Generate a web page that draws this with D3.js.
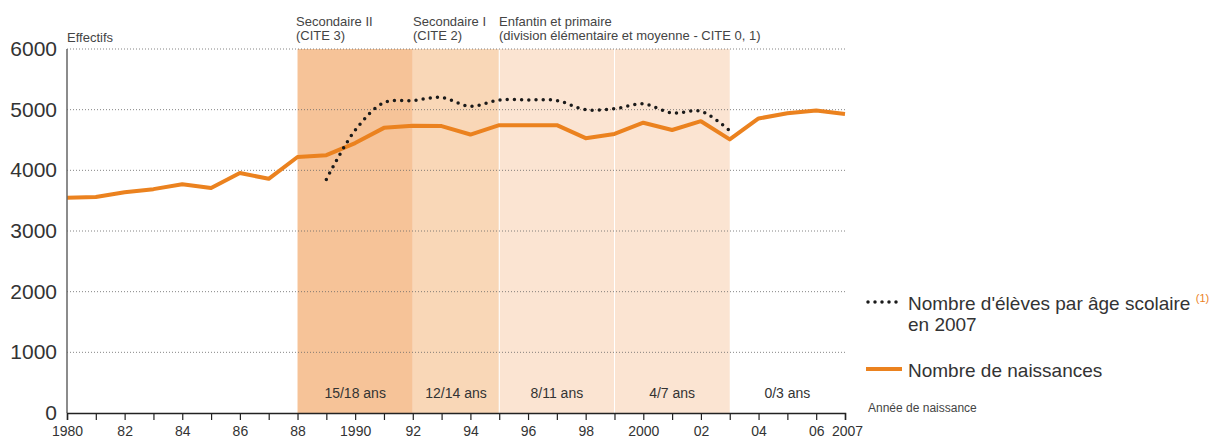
<!DOCTYPE html>
<html>
<head>
<meta charset="utf-8">
<script src="https://cdn.jsdelivr.net/npm/d3@7"></script>
<style>
  body { margin: 0; background: #fff; }
  svg, svg text { font-family: "Liberation Sans Narrow", "Liberation Sans", Arial, sans-serif; }
</style>
</head>
<body>
<svg id="chart" width="1211" height="441"></svg>
<script>
// births per year 1980-2007
var years = d3.range(1980, 2008);
var births = [3550, 3560, 3640, 3690, 3770, 3710, 3955, 3860, 4220, 4250,
              4450, 4700, 4735, 4730, 4590, 4745, 4745, 4745, 4530, 4600,
              4785, 4665, 4810, 4510, 4855, 4940, 4985, 4930];
// pupils by school age in 2007 (birth year 1989-2003)
var pupilYears = d3.range(1989, 2004);
var pupils = [3850, 4660, 5115, 5150, 5200, 5055, 5160, 5160, 5150, 5000,
              5015, 5095, 4945, 4975, 4650];
var yTicks = [0, 1000, 2000, 3000, 4000, 5000, 6000];
var xTickLabels = {1980: '1980', 1982: '82', 1984: '84', 1986: '86', 1988: '88', 1990: '1990',
    1992: '92', 1994: '94', 1996: '96', 1998: '98', 2000: '2000', 2002: '02', 2004: '04',
    2006: '06', 2007: '2007'};
var bands = [
    {from: 1988, to: 1992, label: '15/18 ans', fill: '#f6c398'},
    {from: 1992, to: 1995, label: '12/14 ans', fill: '#f9d7b7'},
    {from: 1995, to: 1999, label: '8/11 ans', fill: '#fbe4d2'},
    {from: 1999, to: 2003, label: '4/7 ans', fill: '#fbe4d2'},
    {from: 2003, to: 2007, label: '0/3 ans', fill: 'none'}
];
var orange = '#eb821f';

var svg = d3.select('#chart');
var x = d3.scaleLinear().domain([1980, 2007]).range([67, 845]);
var y = d3.scaleLinear().domain([0, 6000]).range([413, 49]);

// shaded bands
svg.selectAll('.band').data(bands).enter().append('rect')
    .attr('x', d => x(d.from))
    .attr('width', d => x(d.to) - x(d.from))
    .attr('y', y(6000))
    .attr('height', y(0) - y(6000))
    .attr('fill', d => d.fill);
// white separators
[1995, 1999].forEach(function (yr) {
    svg.append('line')
        .attr('x1', x(yr)).attr('x2', x(yr))
        .attr('y1', y(6000)).attr('y2', y(0))
        .attr('stroke', '#fff').attr('stroke-width', 1);
});

// grid
svg.selectAll('.grid').data(yTicks.slice(1)).enter().append('line')
    .attr('x1', x(1980)).attr('x2', x(2007))
    .attr('y1', d => y(d)).attr('y2', d => y(d))
    .attr('stroke', '#666').attr('stroke-width', 0.8)
    .attr('stroke-dasharray', '1 2');

// y labels
svg.selectAll('.ylab').data(yTicks).enter().append('text')
    .attr('x', 57).attr('y', d => y(d) + 7)
    .attr('text-anchor', 'end')
    .attr('font-size', 21).attr('fill', '#333')
    .text(d => d);

// band labels
svg.selectAll('.blab').data(bands).enter().append('text')
    .attr('x', d => (x(d.from) + x(d.to)) / 2)
    .attr('y', 398)
    .attr('text-anchor', 'middle')
    .attr('font-size', 14).attr('fill', '#333')
    .text(d => d.label);

// lines
var birthLine = d3.line()
    .x((d, i) => x(years[i]))
    .y(d => y(d));
svg.append('path')
    .attr('d', birthLine(births))
    .attr('fill', 'none').attr('stroke', orange)
    .attr('stroke-width', 4).attr('stroke-linejoin', 'round');

var pupilLine = d3.line()
    .x((d, i) => x(pupilYears[i]))
    .y(d => y(d))
    .curve(d3.curveCatmullRom);
svg.append('path')
    .attr('d', pupilLine(pupils))
    .attr('fill', 'none').attr('stroke', '#1a1a1a')
    .attr('stroke-width', 3.5).attr('stroke-linecap', 'round')
    .attr('stroke-dasharray', '0 7.2');

// axes
svg.append('line')
    .attr('x1', x(1980)).attr('x2', x(1980))
    .attr('y1', y(6000)).attr('y2', y(0))
    .attr('stroke', '#666').attr('stroke-width', 1.5);
var xAxis = d3.axisBottom(x)
    .tickValues(years)
    .tickSize(7)
    .tickFormat(d => xTickLabels[d] || '');
var gx = svg.append('g')
    .attr('transform', 'translate(0,' + y(0) + ')')
    .call(xAxis)
    .attr('font-family', null);
gx.select('.domain').attr('stroke', '#222').attr('stroke-width', 1.5);
gx.selectAll('.tick line').attr('stroke', '#222').attr('stroke-width', 1.2);
gx.selectAll('.tick text')
    .attr('font-size', 14).attr('fill', '#333')
    .attr('y', 13);
gx.selectAll('.tick').filter(d => d === 2007).select('text').attr('dx', 2);

// header labels
function label(tx, ty, str, size) {
    return svg.append('text').attr('x', tx).attr('y', ty)
        .attr('font-size', size || 13).attr('fill', '#444').text(str);
}
label(67, 42, 'Effectifs');
label(296, 26, 'Secondaire II');
label(296, 40, '(CITE 3)');
label(413, 26, 'Secondaire I');
label(413, 40, '(CITE 2)');
label(499, 26, 'Enfantin et primaire');
label(499, 40, '(division élémentaire et moyenne - CITE 0, 1)');

// legend
svg.append('line')
    .attr('x1', 868).attr('x2', 900).attr('y1', 302).attr('y2', 302)
    .attr('stroke', '#1a1a1a').attr('stroke-width', 3.5)
    .attr('stroke-linecap', 'round').attr('stroke-dasharray', '0 7');
var lt = svg.append('text').attr('x', 908).attr('y', 310)
    .attr('font-size', 19).attr('fill', '#333');
lt.append('tspan').text("Nombre d'élèves par âge scolaire ");
lt.append('tspan').attr('font-size', 11).attr('fill', orange).attr('dy', -8).text('(1)');
label(908, 331, 'en 2007', 19).attr('fill', '#333');
svg.append('line')
    .attr('x1', 866).attr('x2', 902).attr('y1', 369).attr('y2', 369)
    .attr('stroke', orange).attr('stroke-width', 4);
svg.append('text').attr('x', 908).attr('y', 377)
    .attr('font-size', 19).attr('fill', '#333').text('Nombre de naissances');
label(868, 412, 'Année de naissance', 12);
</script>
</body>
</html>
